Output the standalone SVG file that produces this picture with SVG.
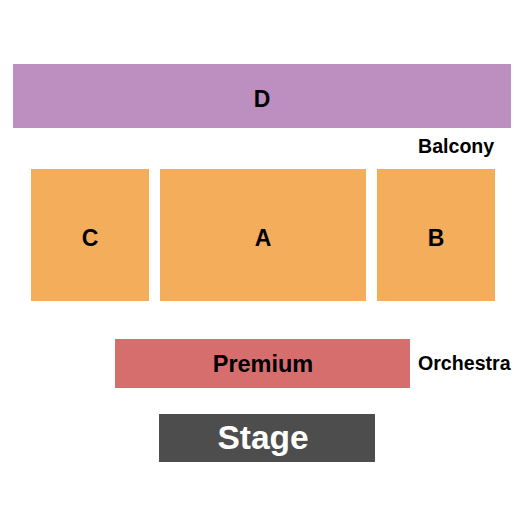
<svg xmlns="http://www.w3.org/2000/svg" width="525" height="525" viewBox="0 0 525 525">
<style>
text{font-family:"Liberation Sans",Arial,sans-serif;font-weight:bold;text-anchor:middle;fill:#000}
.sec{font-size:23px}
.lbl{font-size:19.6px;text-anchor:start}
.orange{fill:#F3AD5B}
</style>
<rect width="525" height="525" fill="#fff"/>
<g id="D"><rect x="13" y="64" width="498" height="64" fill="#BD8FC1"/><text class="sec" x="262" y="107">D</text></g>
<g id="balcony-label"><text class="lbl" x="418" y="153">Balcony</text></g>
<g id="C"><rect class="orange" x="31" y="169" width="118" height="132"/><text class="sec" x="90" y="246">C</text></g>
<g id="A"><rect class="orange" x="160" y="169" width="206" height="132"/><text class="sec" x="263" y="246">A</text></g>
<g id="B"><rect class="orange" x="377" y="169" width="118" height="132"/><text class="sec" x="436" y="246">B</text></g>
<g id="Premium"><rect x="115" y="339" width="295" height="49" fill="#D66E6E"/><text x="263" y="372" style="font-size:23.5px">Premium</text></g>
<g id="orchestra-label"><text class="lbl" x="418" y="370">Orchestra</text></g>
<g id="Stage"><rect x="159" y="414" width="216" height="48" fill="#4D4D4D"/><text x="263" y="449" style="font-size:33.5px;fill:#fff">Stage</text></g>
<g id="connectors"/>
</svg>
